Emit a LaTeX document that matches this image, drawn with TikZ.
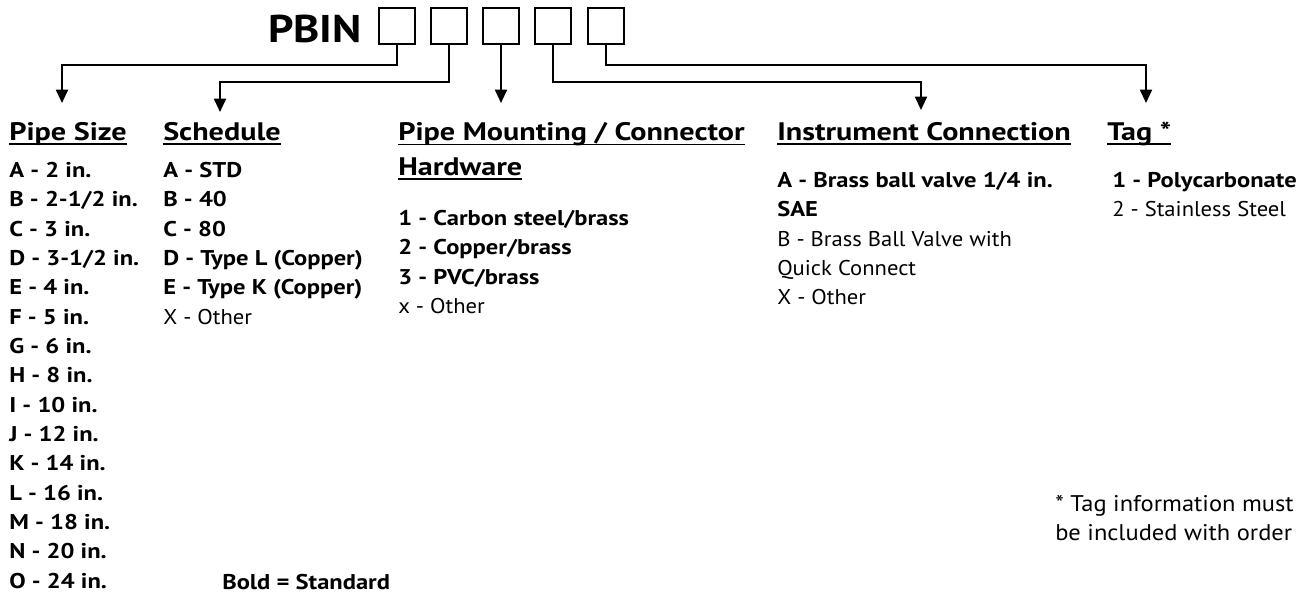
\documentclass[tikz,border=0pt]{standalone}
\usepackage{fontspec}
\setmainfont{PT Sans}[UprightFeatures={FakeStretch=1.06}, BoldFeatures={FakeStretch=1.15}]
\newfontfamily\hdfont{PT Sans}[FakeStretch=1.19]
\newfontfamily\pnfont{PT Sans}[FakeStretch=1.15]
\newfontfamily\notefont{PT Sans}[FakeStretch=1.08]
\usetikzlibrary{arrows.meta,positioning}
\newlength{\hdwd}
\newcommand{\hdul}[1]{\settowidth{\hdwd}{#1}\rlap{\rule[-3.8pt]{\hdwd}{1.2pt}}#1}

\begin{document}
\begin{tikzpicture}[
  x=0.75pt, y=-0.75pt,
  digit/.style={draw, line width=1.5pt, minimum size=27.5pt, inner sep=0pt},
  hdr/.style={anchor=base west, inner sep=0pt, font=\hdfont\fontsize{19}{26}\selectfont\bfseries},
  opts/.style={anchor=north west, inner sep=0pt, align=left, font=\fontsize{16}{22}\selectfont},
  lead/.style={-{Triangle[length=10pt, width=9pt]}, line width=1.4pt}
]
\useasboundingbox (0,0) rectangle (1304,604);

% part number and its five code boxes
\node[anchor=base west, inner sep=0pt, font=\pnfont\fontsize{29}{34}\selectfont\bfseries] (pbin) at (268,42) {PBIN};
\node[digit] (b1) at (397,26) {};
\node[digit] (b2) at (449,26) {};
\node[digit] (b3) at (501,26) {};
\node[digit] (b4) at (553,26) {};
\node[digit] (b5) at (606,26) {};

% column headings
\node[hdr] (size)  at (9,140)   {\hdul{Pipe Size}};
\node[hdr] (sched) at (163,140) {\hdul{Schedule}};
\node[hdr, anchor=north west, align=left] (mount) at (398,122)
  {\hdul{Pipe Mounting / Connector}\\\hdul{Hardware}};
\node[hdr] (instr) at (777,140) {\hdul{Instrument Connection}};
\node[hdr] (tag)   at (1107,140) {\hdul{Tag *}};

% arrow ends
\coordinate (t1) at (62,103);
\coordinate (t2) at (220,112);
\coordinate (t3) at (501,103);
\coordinate (t4) at (921,110);
\coordinate (t5) at (1146,103);

\draw[lead] (b1.south) -- ++(0,20) -| (t1);
\draw[lead] (b2.south) -- ++(0,37) -| (t2);
\draw[lead] (b3.south) -- (t3);
\draw[lead] (b4.south) -- ++(0,37) -| (t4);
\draw[lead] (b5.south) -- ++(0,20) -| (t5);

% option lists
\node[opts] (sizelist) at (9,162) {\bfseries A - 2 in.\\\bfseries B - 2-1/2 in.\\\bfseries C - 3 in.\\\bfseries D - 3-1/2 in.\\
  \bfseries E - 4 in.\\\bfseries F - 5 in.\\\bfseries G - 6 in.\\\bfseries H - 8 in.\\\bfseries I - 10 in.\\
  \bfseries J - 12 in.\\\bfseries K - 14 in.\\\bfseries L - 16 in.\\\bfseries M - 18 in.\\\bfseries N - 20 in.\\
  \bfseries O - 24 in.};
\node[opts] (schedlist) at (163,162) {\bfseries A - STD\\\bfseries B - 40\\\bfseries C - 80\\
  \bfseries D - Type L (Copper)\\\bfseries E - Type K (Copper)\\X - Other};
\node[opts] (mountlist) at (398,210) {\bfseries 1 - Carbon steel/brass\\\bfseries 2 - Copper/brass\\
  \bfseries 3 - PVC/brass\\x - Other};
\node[opts] (instrlist) at (777,172) {\bfseries A - Brass ball valve 1/4 in.\\\bfseries SAE\\
  B - Brass Ball Valve with\\Quick Connect\\X - Other};
\node[opts] (taglist) at (1112,172) {\bfseries 1 - Polycarbonate\\2 - Stainless Steel};

% notes
\node[opts, font=\notefont\fontsize{17}{22}\selectfont] (tagnote) at (1055,495) {* Tag information must\\be included with order};
\node[anchor=base west, inner sep=0pt, font=\fontsize{16}{22}\selectfont\bfseries] (legend) at (222,589) {Bold = Standard};
\end{tikzpicture}
\end{document}
